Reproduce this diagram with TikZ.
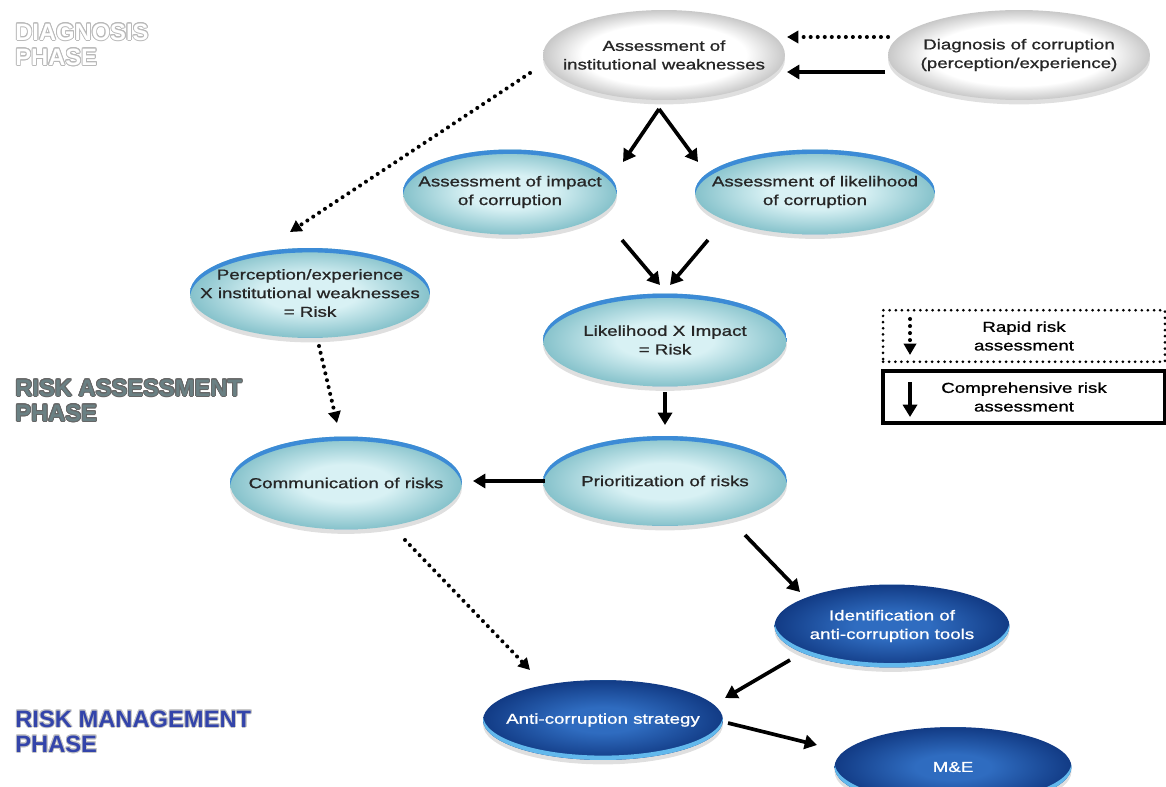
\documentclass[tikz,border=0pt]{standalone}
\usepackage{fontspec}
\setmainfont{Liberation Sans}
\newfontfamily\nodefont[FakeStretch=1.3, FakeBold=1.0]{Liberation Sans}
\usepackage{contour}
\usetikzlibrary{arrows.meta,shapes.geometric,shadows,calc}

\definecolor{lightin}{HTML}{D8F1F4}
\definecolor{lightout}{HTML}{86C2CB}
\definecolor{whiteout}{HTML}{C8C8C8}
\definecolor{darkin}{HTML}{2F6CC0}
\definecolor{darkout}{HTML}{123B85}
\definecolor{topblue}{HTML}{3C8BD6}
\definecolor{lowcyan}{HTML}{62B8EC}
\definecolor{assesscol}{HTML}{6A8083}
\definecolor{managecol}{HTML}{3344AA}
\contourlength{0.5pt}

\pgfdeclareradialshading{lightsh}{\pgfpoint{0bp}{0bp}}{color(0bp)=(lightin); color(10bp)=(lightin); color(25bp)=(lightout); color(50bp)=(lightout)}
\pgfdeclareradialshading{whitesh}{\pgfpoint{0bp}{0bp}}{color(0bp)=(white); color(17bp)=(white); color(25bp)=(whiteout); color(50bp)=(whiteout)}
\pgfdeclareradialshading{darksh}{\pgfpoint{0bp}{0bp}}{color(0bp)=(darkin); color(8bp)=(darkin); color(25bp)=(darkout); color(50bp)=(darkout)}

% crescent along the rim of an ellipse node: colour, vertical offset
\newcommand{\rimlight}[2]{%
  \fill[#1, even odd rule] let \p1=(path picture bounding box.north east), \p2=(path picture bounding box.center) in
    (path picture bounding box.south west) rectangle (path picture bounding box.north east)
    (\x2,{\y2+#2}) ellipse [x radius={\x1-\x2}, y radius={\y1-\y2}];}

\tikzset{
  ell/.style={ellipse, inner xsep=-1cm, inner ysep=0pt, align=center, font=\nodefont\fontsize{8.2}{10.6}\selectfont,
    drop shadow={shadow xshift=0pt, shadow yshift=-2.5pt, opacity=.25}},
  whiteell/.style={ell, shading=whitesh, text=black!85},
  lightell/.style={ell, shading=lightsh, text=black!85, path picture={\rimlight{topblue}{-2.5pt}}},
  darkell/.style={ell, shading=darksh, text=white, path picture={\rimlight{lowcyan}{2.5pt}}},
  solidarr/.style={-{Triangle[length=7pt,width=8pt]}, line width=2.1pt},
  dotarr/.style={-{Triangle[length=6.5pt,width=7pt]}, line width=2.3pt, dash pattern=on 0pt off 4pt, line cap=round},
  phase/.style={anchor=west, align=left, inner sep=0pt, font=\fontsize{13.5}{14.3}\selectfont\bfseries},
  legend/.style={minimum width=5.64cm, minimum height=1.03cm, align=center, font=\nodefont\fontsize{8.2}{10.6}\selectfont}
}

\begin{document}
\begin{tikzpicture}[x=0.02cm, y=-0.02cm]
    \useasboundingbox (0,0) rectangle (1166,787);

    % phases
    \node (diagph) [phase, text=white] at (15,45) {\contour{gray!55}{DIAGNOSIS}\\\contour{gray!55}{PHASE}};
    \node (assessph) [phase, text=assesscol] at (15,401) {\contour{black!60}{RISK ASSESSMENT}\\\contour{black!60}{PHASE}};
    \node (manageph) [phase, text=managecol] at (15,732) {\contour{gray!45}{RISK MANAGEMENT}\\\contour{gray!45}{PHASE}};

    % ellipses
    \node (inst) [whiteell, minimum width=4.84cm, minimum height=1.8cm] at (664,55) {Assessment of\\institutional weaknesses};
    \node (diag) [whiteell, minimum width=5.24cm, minimum height=1.8cm] at (1019,55) {Diagnosis of corruption\\(perception/experience)};
    \node (imp) [lightell, minimum width=4.28cm, minimum height=1.7cm] at (510,192) {Assessment of impact\\of corruption};
    \node (lik) [lightell, minimum width=4.8cm, minimum height=1.7cm] at (815,192) {Assessment of likelihood\\of corruption};
    \node (perc) [lightell, minimum width=4.8cm, minimum height=1.8cm] at (310,293) {Perception/experience\\X institutional weaknesses\\= Risk};
    \node (lxi) [lightell, minimum width=4.88cm, minimum height=1.86cm] at (665,340) {Likelihood X Impact\\= Risk};
    \node (comm) [lightell, minimum width=4.64cm, minimum height=1.86cm] at (346,483) {Communication of risks};
    \node (prio) [lightell, minimum width=4.88cm, minimum height=1.8cm] at (665,481) {Prioritization of risks};
    \node (ident) [darkell, minimum width=4.7cm, minimum height=1.66cm] at (892,626) {Identification of\\anti-corruption tools};
    \node (strat) [darkell, minimum width=4.8cm, minimum height=1.6cm] at (603,720) {Anti-corruption strategy};
    \node (me) [darkell, minimum width=4.74cm, minimum height=1.6cm] at (953,767) {M\&E};

    % legend
    \node (rapid) [legend, draw, line width=1.7pt, dash pattern=on 0pt off 3.5pt, line cap=round] at (1024,336) {Rapid risk\\assessment};
    \node (compr) [legend, draw, line width=2pt] at (1024,397) {Comprehensive risk\\assessment};
    \draw[dotarr] ([shift={(-114,-17)}]rapid.center) -- ([shift={(-114,19)}]rapid.center);
    \draw[solidarr] ([shift={(-114,-15)}]compr.center) -- ([shift={(-114,20)}]compr.center);

    % arrows
    \draw[dotarr] ([shift={(-131,-18)}]diag.center) -- ([shift={(123,-18)}]inst.center);
    \draw[solidarr] ([shift={(-134,17)}]diag.center) -- ([shift={(123,17)}]inst.center);
    \draw[dotarr] ([shift={(-134,18)}]inst.center) -- ([shift={(-20,-61)}]perc.center);
    \draw[solidarr] ([shift={(-5,54)}]inst.center) -- ([shift={(113,-30)}]imp.center);
    \draw[solidarr] ([shift={(-5,54)}]inst.center) -- ([shift={(-117,-30)}]lik.center);
    \draw[solidarr] ([shift={(112,48)}]imp.center) -- ([shift={(-5,-55)}]lxi.center);
    \draw[solidarr] ([shift={(-107,48)}]lik.center) -- ([shift={(5,-55)}]lxi.center);
    \draw[solidarr] ([shift={(0,52)}]lxi.center) -- ([shift={(0,-56)}]prio.center);
    \draw[dotarr] ([shift={(9,53)}]perc.center) -- ([shift={(-9,-60)}]comm.center);
    \draw[solidarr] ([shift={(-120,0)}]prio.center) -- ([shift={(127,-2)}]comm.center);
    \draw[solidarr] ([shift={(80,54)}]prio.center) -- ([shift={(-92,-34)}]ident.center);
    \draw[dotarr] ([shift={(59,57)}]comm.center) -- ([shift={(-73,-50)}]strat.center);
    \draw[solidarr] ([shift={(-102,34)}]ident.center) -- ([shift={(122,-22)}]strat.center);
    \draw[solidarr] ([shift={(125,3)}]strat.center) -- ([shift={(-136,-22)}]me.center);
\end{tikzpicture}
\end{document}
